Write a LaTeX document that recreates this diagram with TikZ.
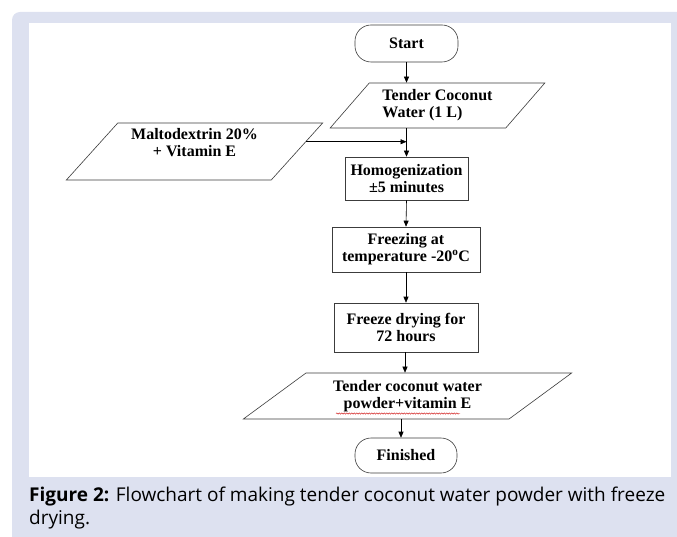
\documentclass[tikz,border=0pt]{standalone}
\usepackage{fontspec}
\setmainfont{Liberation Serif}
\newfontfamily\capfont{Open Sans}
\usetikzlibrary{shapes.geometric,arrows.meta,decorations.pathmorphing}
\definecolor{panel}{RGB}{221,225,240}
\definecolor{edge}{RGB}{60,60,60}
\tikzset{
  boxfont/.style={font=\fontsize{16}{17}\selectfont\bfseries},
  term/.style={draw=edge, line width=0.6pt, rounded corners=16pt, boxfont, inner sep=0pt, fill=white},
  proc/.style={draw=edge, line width=0.6pt, rectangle, boxfont, align=center, inner sep=0pt, fill=white},
  para/.style={draw=edge, line width=0.6pt, trapezium, trapezium stretches body=false, trapezium stretches=true, boxfont, inner sep=0pt, fill=white},
  arr/.style={draw=black, line width=0.6pt, -{Triangle[length=6pt,width=5pt]}},
}
\begin{document}
\begin{tikzpicture}[x=1pt,y=-1pt]
\useasboundingbox (0,0) rectangle (677,537);
% background panel
\fill[panel, rounded corners=8pt] (12,12) rectangle (700,560);
\fill[white] (29,23) rectangle (671,477);

\node[term, minimum width=103pt, minimum height=37pt] (start) at (406.5,43.5) {Start};
\node[para, trapezium left angle=45, trapezium right angle=135, minimum width=215pt, minimum height=45pt, align=left] (tcw) at (437.5,105.5) {Tender Coconut\\Water (1 L)};
\node[para, trapezium left angle=48, trapezium right angle=132, minimum width=257pt, minimum height=57pt, align=center] (malt) at (194.5,151.5) {Maltodextrin 20\%\\+ Vitamin E\\[2pt]\mbox{}};
\node[proc, minimum width=123pt, minimum height=43pt] (homog) at (406.5,178.5) {Homogenization\\\textpm5 minutes};
\node[proc, minimum width=148pt, minimum height=45pt] (freeze) at (406,249.5) {Freezing at\\temperature -20\textsuperscript{o}C};
\node[proc, minimum width=144pt, minimum height=49pt] (fdry) at (406,327.5) {Freeze drying for\\72 hours};
\node[para, trapezium left angle=34.5, trapezium right angle=145.5, minimum width=329pt, minimum height=46pt, align=center] (powder) at (407.5,396) {Tender coconut water\\powder+vitamin E};
\node[term, minimum width=102pt, minimum height=35pt] (fin) at (406,455.5) {Finished};

% spell-check squiggle
\draw[red!80!black, line width=0.4pt, decorate, decoration={snake, amplitude=0.7pt, segment length=2.5pt}] (336,413.5) -- (460,413.5);

\draw[arr] (start.south) -- (start.south |- tcw.north);
\draw[arr] (tcw.south -| homog.north) -- (homog.north);
\draw[arr] (malt.5) -- (malt.5 -| homog.north);
\draw[arr] (homog.south) -- (freeze.north);
\draw[arr] (freeze.south) -- (fdry.north);
\draw[arr] ([xshift=-1pt]fdry.south) -- ([xshift=-1pt]fdry.south |- powder.north);
\draw[arr] ([xshift=-5pt]fin.north |- powder.south) -- ([xshift=-5pt]fin.north);

\node[anchor=north west, align=left, inner sep=0pt, font=\capfont\fontsize{19}{22.5}\selectfont] (cap) at (29,487) {\textbf{Figure 2:} Flowchart of making tender coconut water powder with freeze\\drying.};
\end{tikzpicture}
\end{document}
